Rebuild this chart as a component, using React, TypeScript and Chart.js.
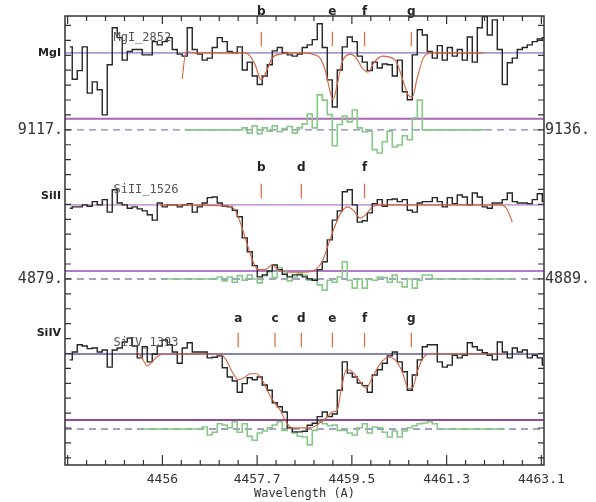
import React, { useEffect, useRef } from "react";
import { Chart, registerables } from "chart.js";

Chart.register(...registerables);

// ---------- wavelength grid of the spectra ----------
const WAVE_START = 4454.14;
const WAVE_STEP = 0.095;
const X_MIN = 4454.05;
const X_MAX = 4463.15;

// ---------- axis ticks ----------
const X_MAJOR_TICKS = [4455.9, 4457.7, 4459.5, 4461.3, 4463.1];
const X_MAJOR_LABELS = ["4456", "4457.7", "4459.5", "4461.3", "4463.1"];
const X_MINOR_PER_MAJOR = 5;
const LEFT_Y_LABELS = ["9117.", "4879."];
const RIGHT_Y_LABELS = ["9136.", "4889."];

// ---------- panels ----------
const PANEL_NAMES = ["MgI", "SiII", "SiIV"];
const PANEL_TRANSITIONS = ["MgI_2852", "SiII_1526", "SiIV_1393"];

// normalised flux per pixel bin
const MGI_FLUX = [
  1.09, 0.6, 0.73, 1.09, 0.39, 0.56, 0.44, 0.06, 0.82, 1.38,
  1.23, 0.89, 1.02, 1.05, 1.05, 0.97, 0.97, 1.17, 1.12, 1.17,
  1.23, 1.05, 0.98, 0.95, 1.38, 1.05, 0.98, 0.89, 0.92, 1.08,
  1.23, 1.17, 1.02, 1.0, 1.09, 0.74, 0.86, 0.65, 0.52, 0.65,
  0.82, 1.03, 1.08, 1.0, 0.97, 0.95, 0.98, 1.08, 1.12, 1.2,
  1.44, 1.08, 0.59, 0.18, 0.74, 1.09, 1.24, 1.17, 0.95, 0.86,
  0.73, 0.86, 0.77, 0.83, 0.82, 0.65, 0.89, 0.41, 0.29, 0.97,
  1.35, 1.27, 1.02, 0.92, 1.11, 0.89, 1.08, 0.95, 1.05, 0.89,
  1.24, 0.86, 1.38, 1.55, 1.27, 1.5, 1.05, 0.52, 0.85, 0.92,
  1.05, 1.08, 1.12, 1.17, 1.21, 1.23,
];
const SIII_FLUX = [
  0.95, 0.97, 0.97, 1.0, 0.98, 1.05, 1.0, 1.08, 0.89, 1.23,
  1.03, 1.0, 0.95, 0.97, 0.94, 0.91, 0.85, 0.77, 1.03, 0.97,
  1.0, 1.0, 0.97, 1.0, 1.02, 0.89, 0.97, 1.03, 1.11, 1.12,
  1.03, 0.98, 0.97, 0.92, 0.82, 0.5, 0.29, 0.08, -0.09, -0.06,
  0.0, 0.09, 0.02, -0.05, -0.09, -0.06, -0.06, -0.09, -0.12, -0.14,
  0.02, 0.14, 0.47, 0.77, 0.91, 1.2, 1.23, 1.0, 0.74, 0.76,
  0.88, 1.02, 1.08, 0.98, 1.08, 1.09, 1.05, 1.08, 0.92, 0.89,
  1.03, 1.05, 1.05, 1.11, 1.05, 0.97, 1.11, 1.02, 1.15, 1.12,
  1.0, 1.18, 1.12, 0.97, 0.95, 1.03, 1.03, 1.08, 1.18, 1.05,
  1.03, 1.03, 1.02, 1.08, 1.17, 1.05,
];
const SIIV_FLUX = [
  0.91, 1.03, 1.14, 1.12, 1.08, 1.09, 1.03, 1.06, 0.8, 1.06,
  1.09, 1.18, 1.24, 1.12, 0.94, 1.11, 0.88, 1.0, 1.12, 1.21,
  1.14, 1.03, 0.86, 1.09, 1.17, 1.03, 1.03, 1.03, 0.94, 0.95,
  0.97, 0.79, 0.65, 0.59, 0.42, 0.55, 0.64, 0.61, 0.65, 0.53,
  0.45, 0.26, 0.2, 0.12, -0.12, -0.18, -0.18, -0.17, -0.08, -0.05,
  0.05, 0.12, 0.05, 0.09, 0.45, 0.88, 0.71, 0.65, 0.56, 0.52,
  0.42, 0.68, 0.76, 0.86, 0.97, 1.03, 0.88, 0.73, 0.45, 0.68,
  0.91, 1.11, 1.14, 1.14, 0.88, 0.8, 0.83, 0.98, 0.94, 0.98,
  1.17, 1.11, 1.06, 1.02, 0.98, 0.91, 1.18, 1.03, 0.94, 1.09,
  1.03, 1.06, 0.94, 0.98, 0.94, 0.83,
];

// fitted profiles
const MGI_FIT_WAVE = [
  4456.274, 4456.35, 4456.521, 4457.472, 4457.567, 4457.662, 4457.776, 4457.871, 4457.985, 4458.137,
  4458.518, 4458.86, 4458.993, 4459.088, 4459.145, 4459.221, 4459.316, 4459.468, 4459.582, 4459.696,
  4459.81, 4459.924, 4460.077, 4460.324, 4460.457, 4460.571, 4460.647, 4460.742, 4460.856, 4460.989,
  4461.997,
];
const MGI_FIT_FLUX = [
  0.6, 1.02, 1.0, 1.0, 0.95, 0.82, 0.59, 0.71, 0.92, 0.98,
  1.0, 0.95, 0.74, 0.41, 0.29, 0.52, 0.86, 0.98, 0.92, 0.77,
  0.71, 0.86, 0.95, 0.89, 0.62, 0.36, 0.33, 0.62, 0.92, 1.0,
  1.0,
];
const SIII_FIT_WAVE = [
  4455.856, 4457.187, 4457.301, 4457.415, 4457.529, 4457.624, 4457.719, 4457.852, 4457.985, 4458.099,
  4458.327, 4458.613, 4458.803, 4458.936, 4459.05, 4459.164, 4459.278, 4459.411, 4459.525, 4459.658,
  4459.772, 4459.886, 4460.038, 4462.32, 4462.434, 4462.548,
];
const SIII_FIT_FLUX = [
  1.0, 0.98, 0.89, 0.65, 0.36, 0.14, 0.02, 0.02, 0.09, 0.02,
  -0.02, -0.02, 0.02, 0.14, 0.39, 0.65, 0.86, 0.97, 0.92, 0.8,
  0.86, 0.97, 1.0, 1.0, 0.95, 0.74,
];
const SIIV_FIT_WAVE = [
  4455.419, 4455.514, 4455.609, 4455.704, 4455.818, 4455.951, 4456.997, 4457.111, 4457.225, 4457.339,
  4457.453, 4457.567, 4457.681, 4457.795, 4457.909, 4458.023, 4458.137, 4458.251, 4458.366, 4458.708,
  4458.86, 4459.012, 4459.126, 4459.221, 4459.297, 4459.392, 4459.506, 4459.658, 4459.772, 4459.886,
  4460.038, 4460.191, 4460.324, 4460.457, 4460.571, 4460.647, 4460.742, 4460.856, 4460.989, 4462.415,
];
const SIIV_FIT_FLUX = [
  1.03, 0.94, 0.82, 0.88, 0.97, 1.0, 1.0, 0.91, 0.73, 0.61,
  0.64, 0.7, 0.7, 0.61, 0.42, 0.27, 0.15, -0.03, -0.12, -0.12,
  -0.06, 0.03, 0.12, 0.15, 0.45, 0.76, 0.73, 0.58, 0.48, 0.64,
  0.85, 0.95, 0.91, 0.73, 0.48, 0.48, 0.73, 0.94, 1.0, 1.0,
];

// residuals (first bin of fitted region + values)
const MGI_RES_START = 23;
const MGI_RES = [
  0, 0, 0, 0, 0, 0, 0, 0, 0, 0, 0, 0,
  0.03, -0.05, 0.06, -0.06, 0.03, -0.02, 0.06, -0.03, 0.02, 0.05, -0.05, 0.03,
  0.09, 0.24, 0.03, 0.53, 0.45, 0.23, -0.24, 0.08, 0.21, 0.12, 0.3, 0.03,
  -0.03, -0.02, -0.3, -0.35, -0.18, -0.02, -0.26, -0.23, -0.09, -0.15, 0.18, 0.45,
  0, 0, 0, 0, 0, 0, 0, 0, 0, 0, 0, 0, 0,
];
const SIII_RES_START = 19;
const SIII_RES = [
  0, 0, 0, 0, 0, 0, 0, 0, 0, 0, 0,
  0.03, -0.03, 0.03, -0.05, 0.05, -0.02, 0.06, 0, -0.06, 0.05,
  0.11, 0.02, 0.17, 0.11, -0.03, 0.03, 0.08, 0.06, -0.02, 0,
  -0.09, -0.17, -0.02, -0.05, 0.03, 0.26, -0.02, -0.14, 0, -0.14,
  0, -0.02, 0.03, 0.02, -0.05, 0.06, -0.05, -0.12, 0, -0.14,
  -0.02, 0.06, 0.06,
  0, 0, 0, 0, 0, 0, 0, 0, 0, 0, 0, 0, 0, 0, 0, 0, 0,
];
const SIIV_RES_START = 14;
const SIIV_RES = [
  0, 0, 0, 0, 0, 0, 0, 0, 0, 0, 0, 0, 0,
  0.03, -0.09, -0.05, 0.08, 0.06, 0.02, 0.11, -0.05, 0.08, -0.11,
  -0.17, -0.06, -0.03, 0.02, 0.06, 0.11, -0.02, 0.02, -0.06, -0.11,
  -0.12, -0.24, -0.02, 0.11, 0.08, 0.05, 0.06, -0.02, -0.02, -0.06,
  -0.09, 0.02, 0.08, -0.06, 0.03, 0.02, -0.05, -0.12, -0.03, -0.12,
  -0.03, 0.02, 0.05, 0.08, 0.09, 0.11, 0.08,
  0, 0, 0, 0, 0, 0, 0, 0, 0, 0, 0, 0, 0, 0,
];

// velocity components
const COMPONENT_NAMES = ["a", "b", "c", "d", "e", "f", "g"];
const COMPONENT_WAVES = [4457.34, 4457.78, 4458.04, 4458.54, 4459.13, 4459.74, 4460.63];
const MGI_COMPONENTS = ["b", "e", "f", "g"];
const SIII_COMPONENTS = ["b", "d", "f"];
const SIIV_COMPONENTS = ["a", "c", "d", "e", "f", "g"];

// ---------- layout (value units of the stacked y axis) ----------
const Y_MAX = 6.8;
const PANEL_BASE = [5.242, 2.939, 0.682];
const PANEL_DASH = [5.076, 2.818, 0.545];
const Y_TICK_STEP = 0.2258;
const MARK_LO = 1.1;
const MARK_HI = 1.32;
const LETTER_LEVEL = [1.62, 1.56, 1.53];
const NAME_LEVEL = [1.0, 1.14, 1.32];
const TRANSITION_LEVEL = [1.23, 1.23, 1.17];

const CONT_COLORS = ["#a99bd2", "#c9a2d6", "#5e5c9e"];
const ZERO_COLORS = ["#a866b2", "#b27acb", "#8f4c94"];

const PANEL_FLUX = [MGI_FLUX, SIII_FLUX, SIIV_FLUX];
const PANEL_FIT_WAVE = [MGI_FIT_WAVE, SIII_FIT_WAVE, SIIV_FIT_WAVE];
const PANEL_FIT_FLUX = [MGI_FIT_FLUX, SIII_FIT_FLUX, SIIV_FIT_FLUX];
const PANEL_RES = [MGI_RES, SIII_RES, SIIV_RES];
const PANEL_RES_START = [MGI_RES_START, SIII_RES_START, SIIV_RES_START];
const PANEL_COMPONENTS = [MGI_COMPONENTS, SIII_COMPONENTS, SIIV_COMPONENTS];

function buildDatasets() {
  const ds: any[] = [];
  for (let p = 0; p < 3; p++) {
    const base = PANEL_BASE[p];
    // component markers
    const marks: any[] = [];
    PANEL_COMPONENTS[p].forEach((c) => {
      const w = COMPONENT_WAVES[COMPONENT_NAMES.indexOf(c)];
      marks.push({ x: w, y: base + MARK_LO }, { x: w, y: base + MARK_HI }, { x: w, y: null });
    });
    ds.push({
      data: marks, borderColor: "#e2714e", borderWidth: 1.3, spanGaps: false,
      pointRadius: 0, order: 0,
    });
    // fit
    ds.push({
      data: PANEL_FIT_WAVE[p].map((w, i) => ({ x: w, y: base + PANEL_FIT_FLUX[p][i] })),
      borderColor: "#d8623f", borderWidth: 1.1, cubicInterpolationMode: "monotone",
      pointRadius: 0, order: 1,
    });
    // observed spectrum
    ds.push({
      data: PANEL_FLUX[p].map((f, i) => ({ x: WAVE_START + i * WAVE_STEP, y: base + f })),
      borderColor: "#262626", borderWidth: 1.4, stepped: "middle",
      pointRadius: 0, order: 2,
    });
    // residuals
    ds.push({
      data: PANEL_RES[p].map((r, i) => ({
        x: WAVE_START + (PANEL_RES_START[p] + i) * WAVE_STEP, y: PANEL_DASH[p] + r,
      })),
      borderColor: "#86c886", borderWidth: 1.6, stepped: "middle",
      pointRadius: 0, order: 3,
    });
    // continuum, zero and residual reference lines
    ds.push({
      data: [{ x: X_MIN, y: base + 1 }, { x: X_MAX, y: base + 1 }],
      borderColor: CONT_COLORS[p], borderWidth: 1.6, pointRadius: 0, order: 5,
    });
    ds.push({
      data: [{ x: X_MIN, y: base }, { x: X_MAX, y: base }],
      borderColor: ZERO_COLORS[p], borderWidth: 2, pointRadius: 0, order: 5,
    });
    ds.push({
      data: [{ x: X_MIN, y: PANEL_DASH[p] }, { x: X_MAX, y: PANEL_DASH[p] }],
      borderColor: "#8282ae", borderWidth: 1.4, borderDash: [7, 5], pointRadius: 0, order: 6,
    });
  }
  return ds;
}

const framePlugin = {
  id: "spectrumFrame",
  afterDatasetsDraw(chart: any) {
    const { ctx, chartArea: a, scales } = chart;
    const xs = scales.x;
    const ys = scales.y;
    ctx.save();

    // component letters
    ctx.fillStyle = "#222";
    ctx.font = 'bold 12px "DejaVu Sans"';
    ctx.textAlign = "center";
    ctx.textBaseline = "middle";
    for (let p = 0; p < 3; p++) {
      PANEL_COMPONENTS[p].forEach((c) => {
        const w = COMPONENT_WAVES[COMPONENT_NAMES.indexOf(c)];
        ctx.fillText(c, xs.getPixelForValue(w), ys.getPixelForValue(PANEL_BASE[p] + LETTER_LEVEL[p]));
      });
    }

    // transition labels inside panels
    ctx.font = '12px "DejaVu Sans Mono"';
    ctx.fillStyle = "#555";
    ctx.textAlign = "left";
    for (let p = 0; p < 3; p++) {
      ctx.fillText(
        PANEL_TRANSITIONS[p],
        xs.getPixelForValue(4454.97),
        ys.getPixelForValue(PANEL_BASE[p] + TRANSITION_LEVEL[p])
      );
    }

    // panel names
    ctx.font = 'bold 11px "DejaVu Sans"';
    ctx.fillStyle = "#222";
    ctx.textAlign = "right";
    for (let p = 0; p < 3; p++) {
      ctx.fillText(PANEL_NAMES[p], a.left - 4, ys.getPixelForValue(PANEL_BASE[p] + NAME_LEVEL[p]));
    }

    // frame
    ctx.strokeStyle = "#333";
    ctx.lineWidth = 1.5;
    ctx.strokeRect(a.left, a.top, a.right - a.left, a.bottom - a.top);

    // x ticks (bottom + top)
    ctx.lineWidth = 1.2;
    ctx.beginPath();
    const step = (X_MAJOR_TICKS[1] - X_MAJOR_TICKS[0]) / X_MINOR_PER_MAJOR;
    for (let k = -10; k <= 30; k++) {
      const v = X_MAJOR_TICKS[0] + k * step;
      if (v < X_MIN || v > X_MAX) continue;
      const px = xs.getPixelForValue(v);
      const major = k % X_MINOR_PER_MAJOR === 0;
      ctx.moveTo(px, a.bottom);
      ctx.lineTo(px, a.bottom - (major ? 10 : 5));
      ctx.moveTo(px, a.top);
      ctx.lineTo(px, a.top + (major ? 8 : 5));
    }
    // y ticks (left + right)
    for (let k = -30; k <= 30; k++) {
      const v = PANEL_DASH[0] + k * Y_TICK_STEP;
      if (v < 0 || v > Y_MAX) continue;
      const py = ys.getPixelForValue(v);
      ctx.moveTo(a.left, py);
      ctx.lineTo(a.left + 6, py);
      ctx.moveTo(a.right, py);
      ctx.lineTo(a.right - 6, py);
    }
    ctx.stroke();

    // x tick labels
    ctx.fillStyle = "#333";
    ctx.font = '13px "DejaVu Sans Mono"';
    ctx.textAlign = "center";
    ctx.textBaseline = "middle";
    X_MAJOR_TICKS.forEach((v, i) => {
      ctx.fillText(X_MAJOR_LABELS[i], xs.getPixelForValue(v), a.bottom + 15);
    });
    ctx.font = '12px "DejaVu Sans Mono"';
    ctx.fillText("Wavelength (A)", (a.left + a.right) / 2, a.bottom + 29);

    // y tick labels
    ctx.font = '15px "DejaVu Sans Mono"';
    LEFT_Y_LABELS.forEach((t, i) => {
      ctx.textAlign = "right";
      ctx.fillText(t, a.left - 2, ys.getPixelForValue(PANEL_DASH[i]));
      ctx.textAlign = "left";
      ctx.fillText(RIGHT_Y_LABELS[i], a.right + 1, ys.getPixelForValue(PANEL_DASH[i]));
    });

    ctx.restore();
  },
};

export default function App() {
  const ref = useRef<HTMLCanvasElement>(null);
  useEffect(() => {
    if (!ref.current) return;
    const chart = new Chart(ref.current, {
      type: "line",
      data: { datasets: buildDatasets() },
      options: {
        animation: false,
        responsive: false,
        devicePixelRatio: 1,
        events: [],
        layout: { padding: { left: 65, top: 16, right: 52, bottom: 37 } },
        plugins: { legend: { display: false }, tooltip: { enabled: false } },
        elements: { point: { radius: 0 } },
        scales: {
          x: { type: "linear", min: X_MIN, max: X_MAX, display: false },
          y: { type: "linear", min: 0, max: Y_MAX, display: false },
        },
      },
      plugins: [framePlugin],
    } as any);
    return () => chart.destroy();
  }, []);
  return (
    <div style={{ position: "absolute", left: 0, top: 0, width: 596, height: 502, background: "#fff" }}>
      <canvas ref={ref} width={596} height={502} />
    </div>
  );
}
